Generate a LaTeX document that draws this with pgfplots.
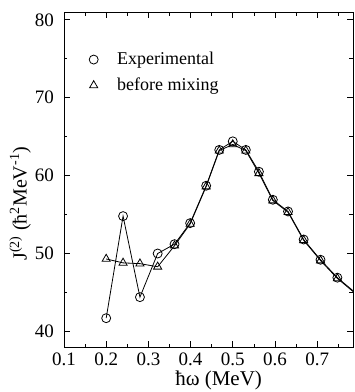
\documentclass[border=0pt]{standalone}
\usepackage{pgfplots}
\pgfplotsset{compat=1.18}
\usepackage{fontspec}
\setmainfont{Liberation Serif}
\begin{document}
\fontsize{15}{17}\selectfont
\begin{tikzpicture}
\useasboundingbox (-64pt,-45pt) rectangle (291pt,347pt);
\begin{axis}[
  scale only axis, width=289pt, height=335pt,
  xmin=0.1, xmax=0.785, ymin=38, ymax=81,
  xtick={0.1,0.2,0.3,0.4,0.5,0.6,0.7},
  xticklabels={0.1,0.2,0.3,0.4,0.5,0.6,0.7},
  ytick={40,50,60,70,80},
  minor xtick={0.15,0.25,0.35,0.45,0.55,0.65,0.75},
  minor ytick={45,55,65,75},
  tick align=inside, tick pos=both,
  major tick length=6pt, minor tick length=3.5pt,
  /pgf/number format/assume math mode=true,
  tick label style={font=\fontsize{19}{21}\selectfont},
  yticklabel style={xshift=-5pt},
  xticklabel style={yshift=-1pt},
  xlabel={\fontsize{21}{23}\selectfont ħω (MeV)},
  ylabel={\fontsize{20}{22}\selectfont J\textsuperscript{(2)} (ħ\textsuperscript{2}MeV\textsuperscript{-1})},
  xlabel style={at={(axis description cs:0.535,0)}, anchor=center, yshift=-33pt},
  ylabel style={at={(axis description cs:-0.152,0.428)}, anchor=center},
  axis line style={line width=0.9pt},
  every tick/.style={line width=0.7pt, black},
  legend style={draw=none, fill=none, at={(axis description cs:0,1)}, anchor=north west, xshift=22pt, yshift=-36pt, font=\fontsize{18}{20}\selectfont, row sep=7pt},
  legend cell align=left,
  legend image code/.code={\draw plot coordinates {(0cm,0cm)}; \path[draw=none] (0cm,0cm) -- (0.75cm,0cm);},
]
\addplot[black, line width=0.8pt, mark=o, mark size=4.5pt, mark options={fill=white, line width=0.8pt}] coordinates {
(0.200,41.7) (0.240,54.8) (0.280,44.4) (0.322,50.0) (0.362,51.2) (0.399,53.9)
(0.437,58.7) (0.468,63.3) (0.500,64.4) (0.531,63.3) (0.562,60.5) (0.595,56.9)
(0.631,55.4) (0.668,51.8) (0.708,49.2) (0.748,46.9) (0.790,45.0)
};
\addlegendentry{Experimental}
\addplot[black, line width=0.8pt, mark=triangle, mark size=4.7pt, mark options={fill=white, line width=0.8pt}] coordinates {
(0.200,49.3) (0.240,48.8) (0.280,48.7) (0.322,48.3) (0.362,51.0) (0.399,53.8)
(0.437,58.6) (0.468,63.2) (0.500,64.0) (0.531,63.2) (0.562,60.3) (0.595,56.8)
(0.631,55.3) (0.668,51.7) (0.708,49.1) (0.748,46.8) (0.790,44.9)
};
\addlegendentry{before mixing}
\end{axis}
\end{tikzpicture}
\end{document}
